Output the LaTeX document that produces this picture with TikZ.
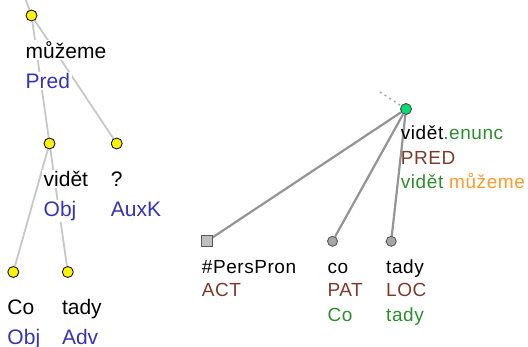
\documentclass[tikz,border=0pt]{standalone}
\usepackage{fontspec}
\setmainfont{Liberation Sans}
\newfontfamily\widefont[LetterSpace=3]{Liberation Sans}
\usetikzlibrary{backgrounds}
\definecolor{afunblue}{HTML}{3434B4}
\definecolor{tbrown}{HTML}{7B3B2B}
\definecolor{tgreen}{HTML}{2E8B2E}
\definecolor{torange}{HTML}{FF9A2E}
\definecolor{tnode}{HTML}{00DD77}
\newcommand\lfont{\fontsize{21}{30}\selectfont}
\newcommand\rfont{\widefont\fontsize{19}{24.5}\selectfont}
% analytical node: name, x, y, form, afun
\newcommand\anode[5]{\node(#1)[adot] at (#2,#3) {};
  \node(#1f)[aform] at ([shift={(-7.5,43)}]#1.center) {#4};
  \node(#1a)[aform,text=afunblue] at ([shift={(0,30)}]#1f.base west) {#5};}

\begin{document}
\begin{tikzpicture}[x=1pt,y=-1pt,
    adot/.style={circle,draw=black,fill=yellow,minimum size=11pt,inner sep=0pt,line width=.8pt},
    aform/.style={anchor=base west,fill=white,inner sep=1.5pt,font=\lfont},
    aedge/.style={draw=black!22,line width=1.8pt},
    tform/.style={anchor=base west,inner sep=0pt,font=\rfont},
    tedge/.style={draw=black!42,line width=2.2pt},
    tdot/.style={circle,draw=black!65,fill=black!35,minimum size=10pt,inner sep=0pt,line width=.9pt}]
    \useasboundingbox (0,0) rectangle (528,347);
    % analytical tree
    \anode{muzeme}{31.5}{15.5}{můžeme}{Pred}
    \anode{videt}{49.5}{143.5}{vidět}{Obj}
    \anode{quest}{116.7}{143.5}{?}{AuxK}
    \anode{co}{13.3}{272}{Co}{Obj}
    \anode{tady}{67.8}{272}{tady}{Adv}
    \coordinate (atop) at (24,-5);
    \begin{scope}[on background layer]
        \draw[aedge] (atop) -- (muzeme);
        \draw[aedge] (muzeme) -- (videt);
        \draw[aedge] (muzeme) -- (quest);
        \draw[aedge] (videt) -- (co);
        \draw[aedge] (videt) -- (tady);
    \end{scope}
    % tectogrammatical tree
    \node(troot)[circle,draw=black!70,fill=tnode,minimum size=11pt,inner sep=0pt,line width=.9pt] at (406,109) {};
    \node(tact)[rectangle,draw=black!65,fill=black!25,minimum size=11pt,inner sep=0pt,line width=.9pt] at (206.7,241.3) {};
    \node(tpat)[tdot] at (332.5,241.3) {};
    \node(tloc)[tdot] at (391.2,241.3) {};
    \coordinate (ttop) at (380,92);
    \begin{scope}[on background layer]
        \draw[draw=black!35,line width=1.5pt,dash pattern=on 2pt off 3.5pt] (ttop) -- (troot);
        \draw[tedge] (troot) -- (tact);
        \draw[tedge] (troot) -- (tpat);
        \draw[tedge] (troot) -- (tloc);
    \end{scope}
    \node(troot1)[tform] at (400.7,140) {vidět{\color{tgreen}.enunc}};
    \node(troot2)[tform,text=tbrown] at (400.7,165) {PRED};
    \node(troot3)[tform] at (400.7,189) {{\color{tgreen}vidět} {\color{torange}můžeme}};
    \node(tact1)[tform] at (201.7,274) {\#PersPron};
    \node(tact2)[tform,text=tbrown] at (201.7,297) {ACT};
    \node(tpat1)[tform] at (327.3,274) {co};
    \node(tpat2)[tform,text=tbrown] at (327.3,297) {PAT};
    \node(tpat3)[tform,text=tgreen] at (327.3,322) {Co};
    \node(tloc1)[tform] at (386,274) {tady};
    \node(tloc2)[tform,text=tbrown] at (386,297) {LOC};
    \node(tloc3)[tform,text=tgreen] at (386,322) {tady};
\end{tikzpicture}
\end{document}
